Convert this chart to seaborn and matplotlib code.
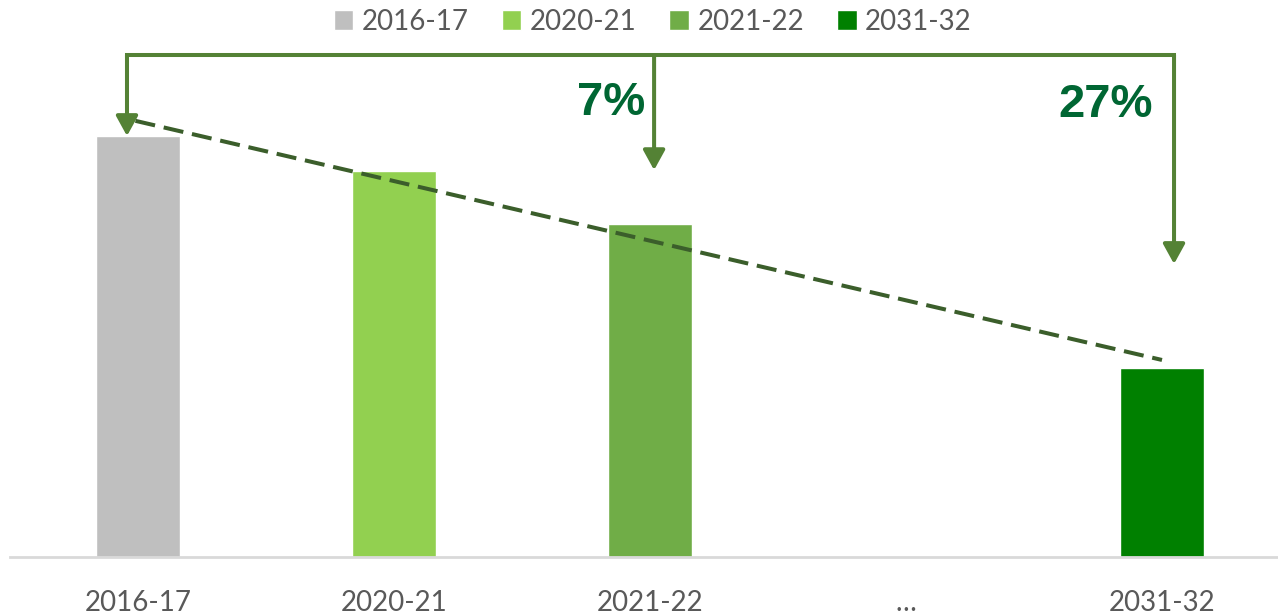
import numpy as np
import pandas as pd
import matplotlib
matplotlib.use("Agg")
import matplotlib.pyplot as plt
import seaborn as sns

# ---- data (relative units) ----
categories = ["2016-17", "2020-21", "2021-22", "…", "2031-32"]
values = [100.0, 91.7, 79.1, np.nan, 44.9]
series_labels = ["2016-17", "2020-21", "2021-22", "2031-32"]
bar_colors = ["#BFBFBF", "#92D050", "#70AD47", "#008000"]
trend_start, trend_end = 103.6, 46.8          # dashed trend line ends
arrow_from = "2016-17"
arrow_targets = ["2021-22", "2031-32"]
arrow_tips = [100.0, 91.9, 69.6]               # tip heights (from, 7%, 27%)
bracket_level = 119.2
change_labels = ["7%", "27%"]

sns.set_theme(style="white")
plt.rcParams["font.family"] = ["Lato", "DejaVu Sans"]

fig = plt.figure(figsize=(12.78, 6.14), dpi=100)
W, H = 1278, 614
ax = fig.add_axes([10 / W, 57 / H, 1280 / W, 517 / H])

df = pd.DataFrame({"period": categories, "value": values}).dropna()
palette = dict(zip(series_labels, bar_colors))
sns.barplot(data=df, x="period", y="value", hue="period", order=categories,
            hue_order=series_labels, palette=palette, width=0.33,
            saturation=1, legend=True, ax=ax)

ax.set_xlim(-0.5, 4.5)
ax.set_ylim(0, 122.8)
ax.set_xlabel("")
ax.set_ylabel("")
ax.set_yticks([])
for s in ["top", "right", "left"]:
    ax.spines[s].set_visible(False)
ax.spines["bottom"].set_color("#D9D9D9")
ax.spines["bottom"].set_linewidth(2)
ax.tick_params(axis="x", length=0, pad=24, labelsize=20, labelcolor="#595959")

# dashed trend line
pos = {c: i for i, c in enumerate(categories)}
ax.plot([pos["2016-17"] - 0.01, pos["2031-32"]], [trend_start, trend_end],
        color="#3B5E2B", lw=2.9, linestyle=(0, (5, 2.2)), zorder=4)

# bracket arrows
arrow_color = "#548235"
xs = [pos[arrow_from] - 0.043, pos[arrow_targets[0]] + 0.016, pos[arrow_targets[1]] + 0.047]
ax.plot([xs[0], xs[-1]], [bracket_level, bracket_level], color=arrow_color,
        lw=2.9, solid_capstyle="projecting", clip_on=False, zorder=5)
for x, tip in zip(xs, arrow_tips):
    ax.annotate("", xy=(x, tip), xytext=(x, bracket_level),
                arrowprops=dict(arrowstyle="-|>,head_length=0.6,head_width=0.33",
                                mutation_scale=20, color=arrow_color, lw=2.9,
                                shrinkA=0, shrinkB=0),
                annotation_clip=False, zorder=5)

# change labels
ax.text(1.98, 107.8, change_labels[0], ha="right", va="center", fontsize=34,
        fontweight="bold", color="#006633", family=["Liberation Sans", "DejaVu Sans"])
ax.text(3.965, 107.4, change_labels[1], ha="right", va="center", fontsize=34,
        fontweight="bold", color="#006633", family=["Liberation Sans", "DejaVu Sans"])

sns.move_legend(ax, "center", bbox_to_anchor=(0.502, 1.035), ncol=4, frameon=False,
                title=None, fontsize=20, handlelength=0.7, handleheight=0.7,
                handletextpad=0.3, columnspacing=1.2, borderaxespad=0)
for t in ax.get_legend().get_texts():
    t.set_color("#595959")

fig.savefig("out.png", dpi=100)
